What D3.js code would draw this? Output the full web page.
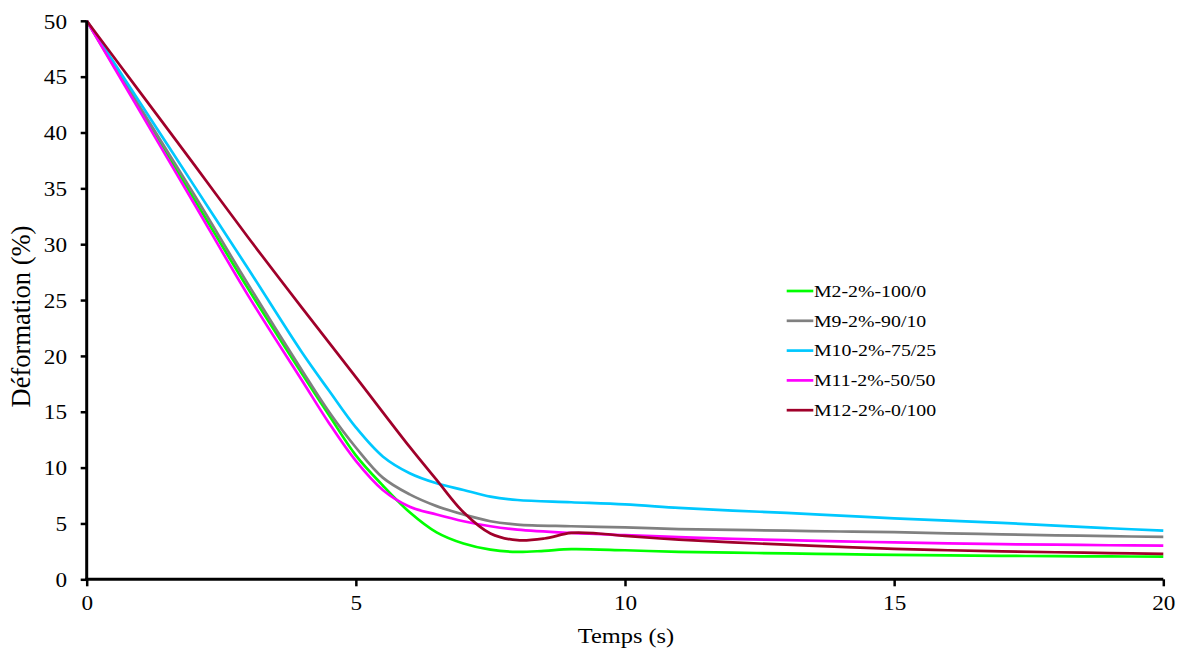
<!DOCTYPE html>
<html>
<head>
<meta charset="utf-8">
<script src="https://cdn.jsdelivr.net/npm/d3@7"></script>
<style>
  html, body { margin: 0; padding: 0; background: #fff; }
  svg { display: block; }
  text { font-family: "Liberation Serif", "Times New Roman", serif; fill: #000; }
</style>
</head>
<body>
<svg id="chart" width="1184" height="653"></svg>
<script>
// ---- data ----
const seriesNames = ["M2-2%-100/0", "M9-2%-90/10", "M10-2%-75/25", "M11-2%-50/50", "M12-2%-0/100"];
const seriesColors = ["#00ff00", "#808080", "#00c8ff", "#ff00ff", "#a0002a"];

const xM2 = [0, 1, 2, 3, 4, 4.5, 5, 5.5, 6, 6.5, 7, 7.5, 8, 8.5, 9, 10, 11, 12, 13, 14, 15, 16, 17, 18, 19, 20];
const yM2 = [50, 42, 34, 26, 18.4, 14.7, 11.1, 8.4, 6.0, 4.2, 3.2, 2.65, 2.45, 2.55, 2.7, 2.6, 2.45, 2.38, 2.32, 2.25, 2.18, 2.14, 2.1, 2.07, 2.05, 2.03];

const xM9 = [0, 1, 2, 3, 4, 4.5, 5, 5.5, 6, 6.5, 7, 7.5, 8, 9, 10, 11, 12, 13, 14, 15, 16, 17, 18, 19, 20];
const yM9 = [50, 42.2, 34.4, 26.4, 18.7, 15.0, 11.8, 9.1, 7.6, 6.55, 5.8, 5.2, 4.9, 4.75, 4.65, 4.5, 4.42, 4.35, 4.28, 4.22, 4.12, 4.02, 3.94, 3.86, 3.79];

const xM10 = [0, 1, 2, 3, 4, 4.5, 5, 5.5, 6, 6.5, 7, 7.5, 8, 9, 10, 11, 12, 13, 14, 15, 16, 17, 18, 19, 20];
const yM10 = [50, 42.6, 35.2, 27.8, 20.3, 16.9, 13.6, 11.0, 9.5, 8.6, 8.0, 7.4, 7.1, 6.9, 6.7, 6.4, 6.15, 5.95, 5.7, 5.45, 5.25, 5.05, 4.8, 4.57, 4.35];

const xM11 = [0, 1, 2, 3, 4, 4.5, 5, 5.5, 6, 6.5, 7, 7.5, 8, 9, 10, 11, 12, 13, 14, 15, 16, 17, 18, 19, 20];
const yM11 = [50, 41.8, 33.6, 25.4, 17.8, 14.0, 10.6, 8.0, 6.5, 5.8, 5.2, 4.75, 4.45, 4.15, 3.95, 3.78, 3.62, 3.5, 3.4, 3.3, 3.22, 3.15, 3.1, 3.05, 3.01];

const xM12 = [0, 1, 2, 3, 4, 5, 6, 6.5, 7, 7.5, 8, 8.5, 9, 9.5, 10, 11, 12, 13, 14, 15, 16, 17, 18, 19, 20];
const yM12 = [50, 43.55, 37.1, 30.6, 24.3, 18.1, 11.85, 8.9, 6.0, 4.1, 3.5, 3.65, 4.15, 4.1, 3.88, 3.55, 3.3, 3.1, 2.9, 2.72, 2.6, 2.5, 2.42, 2.35, 2.27];

const xTicks = [0, 5, 10, 15, 20];
const yTicks = [0, 5, 10, 15, 20, 25, 30, 35, 40, 45, 50];
const xTitle = "Temps (s)";
const yTitle = "Déformation (%)";

const seriesX = [xM2, xM9, xM10, xM11, xM12];
const seriesY = [yM2, yM9, yM10, yM11, yM12];

// ---- layout ----
const svg = d3.select("#chart");
const X0 = 86.7, X1 = 1163.3, Y0 = 579.3, Y1 = 20.8;
const SX = 1.16; // horizontal text stretch of the reference

const x = d3.scaleLinear().domain([0, 20]).range([X0, X1]);
const y = d3.scaleLinear().domain([0, 50]).range([Y0, Y1]);

// lines
const line = d3.line().x(d => x(d[0])).y(d => y(d[1])).curve(d3.curveCatmullRom.alpha(0.5));
seriesNames.forEach((name, i) => {
  const pts = seriesX[i].map((v, j) => [v, seriesY[i][j]]);
  svg.append("path")
    .attr("d", line(pts))
    .attr("fill", "none")
    .attr("stroke", seriesColors[i])
    .attr("stroke-width", 2.7)
    .attr("stroke-linejoin", "round");
});

// axes
const yAxis = svg.append("g")
  .attr("transform", `translate(${X0},0)`)
  .call(d3.axisLeft(y).tickValues(yTicks).tickSize(6).tickSizeOuter(0).tickFormat(d3.format("d")));
const xAxis = svg.append("g")
  .attr("transform", `translate(0,${Y0})`)
  .call(d3.axisBottom(x).tickValues(xTicks).tickSize(7).tickSizeOuter(0).tickFormat(d3.format("d")));

[yAxis, xAxis].forEach(g => {
  g.select(".domain").attr("stroke", "#000").attr("stroke-width", 3);
  g.selectAll(".tick line").attr("stroke", "#000").attr("stroke-width", 2.5);
  g.selectAll(".tick text").attr("font-family", "Liberation Serif").attr("font-size", 20).attr("fill", "#000");
});
yAxis.selectAll(".tick text")
  .attr("x", -19.7 / SX).attr("dy", "0.36em")
  .attr("transform", `scale(${SX},1)`);
xAxis.selectAll(".tick text")
  .attr("y", 16.5).attr("dy", "0.71em")
  .attr("transform", `scale(${SX},1)`);
yAxis.select(".domain").attr("d", `M0,${Y0 + 1.5}V${Y1}`);
xAxis.select(".domain").attr("d", `M${X0 - 1.5},0H${X1}`);

// axis titles
svg.append("text")
  .attr("transform", `translate(626,643) scale(${SX},1)`)
  .attr("text-anchor", "middle")
  .attr("font-size", 21)
  .text(xTitle);
svg.append("text")
  .attr("transform", `translate(30,316.5) rotate(-90)`)
  .attr("text-anchor", "middle")
  .attr("font-size", 26.5)
  .text(yTitle);

// legend
const legend = svg.append("g");
seriesNames.forEach((name, i) => {
  const ly = 291 + i * 29.8;
  legend.append("line")
    .attr("x1", 786.7).attr("x2", 813.3)
    .attr("y1", ly).attr("y2", ly)
    .attr("stroke", seriesColors[i]).attr("stroke-width", 2.7);
  legend.append("text")
    .attr("transform", `translate(814,${ly}) scale(1.18,1)`)
    .attr("dy", "0.35em")
    .attr("font-size", 16.8)
    .text(name);
});
</script>
</body>
</html>
